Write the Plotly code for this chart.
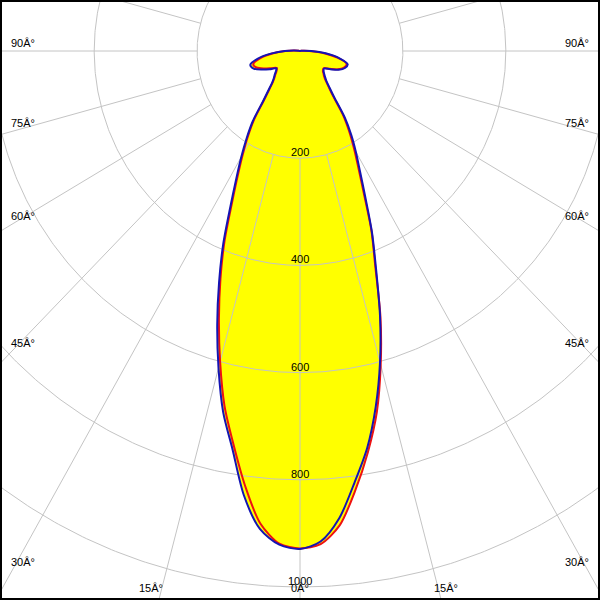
import numpy as np
import plotly.graph_objects as go

# ---- data ----
gamma = [0, 2.5, 5, 7.5, 10, 12.5, 15, 17.5, 20, 22.5, 25, 27.5, 30, 32.5, 35,
         37.5, 40, 42.5, 45, 47.5, 50, 55, 60, 65, 70, 75, 80, 85, 90, 95, 100, 180]
# blue curve (C90 right / C270 left)
c90 = [929, 916, 875, 812, 752, 680, 601, 517, 432, 365, 300, 252, 217, 185, 152,
       110, 89, 76, 69, 64, 60, 57, 68, 83, 93, 96, 78, 50, 22, 8, 2, 0]
c270 = [929, 922, 895, 836, 755, 690, 612, 535, 460, 390, 320, 268, 228, 193, 160,
        118, 95, 80, 72, 67, 62, 56, 68, 82, 96, 100, 84, 57, 30, 12, 3, 0]
# red curve (C0 right / C180 left)
c0 = [929, 921, 888, 826, 760, 690, 606, 520, 428, 363, 294, 246, 210, 178, 146,
      105, 86, 73, 66, 62, 58, 56, 66, 81, 91, 94, 75, 47, 18, 7, 2, 0]
c180 = [928, 920, 885, 818, 745, 678, 600, 524, 452, 383, 313, 262, 222, 188, 155,
        114, 92, 78, 70, 65, 60, 55, 64, 77, 90, 94, 79, 54, 28, 10, 2, 0]

ring_values = [200, 400, 600, 800, 1000]
ring_labels = ["200", "400", "600", "800", "1000"]
spoke_step = 15
side_angle_labels = [90, 75, 60, 45, 30]
bottom_angle_labels = [15, 0, 15]
DEG = "\u00c2\u00b0"   # the reference shows the mojibake "Â°"

# ---- geometry of the picture ----
W = H = 600
M = 2
CX, CY = 300, 51          # pixel position of the pole
SX, SY = 0.5145, 0.536    # pixels per candela, horizontal / vertical
xr = [(M - CX) / SX, (W - M - CX) / SX]
yr = [-(H - M - CY) / SY, (CY - M) / SY]


def px(x):
    return (x - M) / (W - 2 * M)


def py(y):
    return 1 - (y - M) / (H - 2 * M)


def curve(right, left):
    g = np.array(gamma, dtype=float)
    r_right = np.array(right, dtype=float)
    r_left = np.array(left, dtype=float)
    th = np.concatenate([-g[::-1], g[1:]])
    r = np.concatenate([r_left[::-1], r_right[1:]])
    t = np.radians(th)
    return r * np.sin(t), -r * np.cos(t)


fig = go.Figure()

xb, yb = curve(c90, c270)
xr_, yr_ = curve(c0, c180)
for xx, yy in [(xr_, yr_), (xb, yb)]:
    fig.add_trace(go.Scatter(x=xx, y=yy, mode="lines", fill="toself",
                             fillcolor="#ffff00",
                             line=dict(width=0, shape="spline", smoothing=0.8),
                             hoverinfo="skip", showlegend=False))

# grid rings
gx, gy = [], []
t = np.radians(np.linspace(0, 360, 721))
for rv in ring_values:
    gx += list(rv * np.sin(t)) + [None]
    gy += list(-rv * np.cos(t)) + [None]
# spokes from the first ring outwards
for a in range(0, 360, spoke_step):
    ar = np.radians(a)
    r0, r1 = ring_values[0], 3000
    gx += [r0 * np.sin(ar), r1 * np.sin(ar), None]
    gy += [-r0 * np.cos(ar), -r1 * np.cos(ar), None]
fig.add_trace(go.Scatter(x=gx, y=gy, mode="lines",
                         line=dict(color="#c4c4c4", width=1),
                         hoverinfo="skip", showlegend=False))

fig.add_trace(go.Scatter(x=xr_, y=yr_, mode="lines",
                         line=dict(color="#ee1111", width=2, shape="spline", smoothing=0.8),
                         hoverinfo="skip", showlegend=False))
fig.add_trace(go.Scatter(x=xb, y=yb, mode="lines",
                         line=dict(color="#1414b4", width=2, shape="spline", smoothing=0.8),
                         hoverinfo="skip", showlegend=False))

font = dict(family="Liberation Sans, Arial, sans-serif", size=11, color="black")
ann = []
for rv, lab in zip(ring_values, ring_labels):
    ann.append(dict(x=0, y=-rv, xref="x", yref="y", text=lab, showarrow=False,
                    xanchor="center", yanchor="middle", yshift=6, font=font))

side_y = [43, 123, 216, 343, 562]
for a, yy in zip(side_angle_labels, side_y):
    ann.append(dict(x=px(9), y=py(yy), xref="paper", yref="paper",
                    text=f"{a}{DEG}", showarrow=False, xanchor="left",
                    yanchor="middle", font=font))
    ann.append(dict(x=px(591), y=py(yy), xref="paper", yref="paper",
                    text=f"{a}{DEG}", showarrow=False, xanchor="right",
                    yanchor="middle", font=font))
bottom_x = [151, 300, 446]
for a, xx in zip(bottom_angle_labels, bottom_x):
    ann.append(dict(x=px(xx), y=py(588), xref="paper", yref="paper",
                    text=f"{a}{DEG}", showarrow=False, xanchor="center",
                    yanchor="middle", font=font))

fig.update_layout(
    width=W, height=H,
    margin=dict(l=M, r=M, t=M, b=M, pad=0),
    paper_bgcolor="black", plot_bgcolor="white",
    xaxis=dict(range=xr, visible=False, fixedrange=True),
    yaxis=dict(range=yr, visible=False, fixedrange=True),
    annotations=ann,
    showlegend=False,
)

fig.write_html("out.html", config={"displayModeBar": False},
               post_script="document.body.style.margin='0';"
                           "document.body.style.overflow='hidden';")
